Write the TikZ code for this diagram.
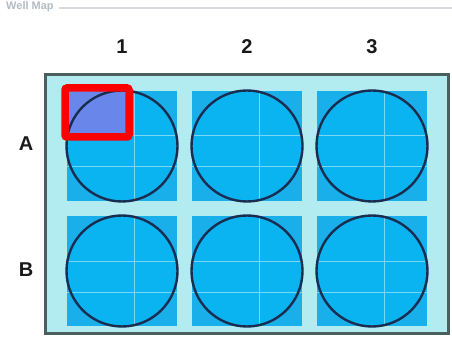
\documentclass[tikz,border=0pt]{standalone}
\usepackage{fontspec}
\setmainfont{Liberation Sans}
\definecolor{plate}{RGB}{178,236,240}
\definecolor{plateedge}{RGB}{75,95,95}
\definecolor{wellsq}{RGB}{25,175,235}
\definecolor{wellc}{RGB}{10,180,240}
\definecolor{ring}{RGB}{25,45,80}
\definecolor{gridl}{RGB}{120,215,245}
\definecolor{sel}{RGB}{105,135,235}
\definecolor{faint}{RGB}{180,188,195}
\definecolor{faintline}{RGB}{215,218,222}
\begin{document}
\begin{tikzpicture}[x=1pt,y=-1pt,
  lab/.style={font=\bfseries\fontsize{20}{20}\selectfont, text=black!90},
  wellsquare/.style={fill=wellsq, draw=none, minimum size=110pt, inner sep=0pt},
  wellring/.style={circle, draw=ring, line width=2.4pt, minimum size=111pt, inner sep=0pt}]
\useasboundingbox (0,0) rectangle (452,347);
\fill[white] (0,0) rectangle (452,347);
% group box frame
\node[anchor=west, text=faint, font=\bfseries\fontsize{11}{11}\selectfont, inner sep=0pt] (title) at (6,7) {Well Map};
\draw[faintline, line width=1.2pt] (title.east) ++(5,1) coordinate (t1) -- (452,8) coordinate (t2);
% plate
\node[draw=plateedge, fill=plate, line width=2.6pt, minimum width=403pt, minimum height=259pt, inner sep=0pt, anchor=north west] (plate) at (44,73) {};
% labels
\node[lab] (c1) at (122,47) {1};
\node[lab] (c2) at (247,47) {2};
\node[lab] (c3) at (372,47) {3};
\node[lab] (rA) at (26,144) {A};
\node[lab] (rB) at (26,270) {B};
% wells
\foreach \r/\y in {A/146,B/271}{
  \foreach \c/\x in {1/122,2/247,3/372}{
    \node[wellsquare] (sq\r\c) at (\x,\y) {};
    \fill[wellc] (\x,\y) circle (55.5);
    \draw[gridl, line width=1pt] (\x+12,\y-55) -- (\x+12,\y+55);
    \draw[gridl, line width=1pt] (\x-55,\y-10) -- (\x+55,\y-10);
    \draw[gridl, line width=1pt] (\x-55,\y+21) -- (\x+55,\y+21);
  }
}
% selection tint on A1
\fill[sel] (67,91) rectangle (127,134);
\foreach \r/\y in {A/146,B/271}{
  \foreach \c/\x in {1/122,2/247,3/372}{
    \node[wellring] (w\r\c) at (\x,\y) {};
  }
}
% red selection box
\node[draw=red, line width=7.5pt, rounded corners=2pt, minimum width=64pt, minimum height=49pt, inner sep=0pt] (selbox) at (97,112.5) {};
\end{tikzpicture}
\end{document}
